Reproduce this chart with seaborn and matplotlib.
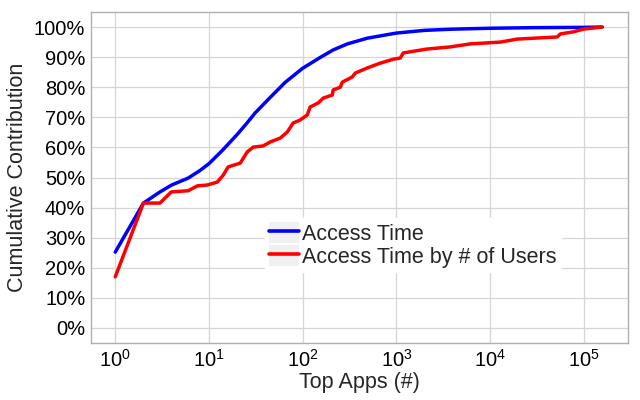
import numpy as np
import pandas as pd
import matplotlib
matplotlib.use("Agg")
import matplotlib.pyplot as plt
import matplotlib.ticker as mticker
from matplotlib.patches import Patch
from matplotlib.lines import Line2D
from matplotlib.legend_handler import HandlerTuple
import seaborn as sns

# Access Time: cumulative contribution (%) over top apps
access_apps = [1, 2, 3, 4, 6, 8, 10, 14, 20, 25.6, 31, 45, 65, 100, 154,
               212, 300, 490, 1000, 2000, 4000, 10000, 30000, 100000, 157000]
access_pct = [25.2, 41.5, 45.2, 47.5, 49.8, 52.3, 54.6, 59.1, 64.3, 68.2,
              71.4, 76.6, 81.6, 86.3, 89.9, 92.4, 94.4, 96.3, 98.0, 98.9,
              99.3, 99.6, 99.8, 99.9, 100.0]

# Access Time weighted by # of users (stepwise)
users_apps = [1, 2, 3, 3.96, 6, 7.5, 9.6, 12.3, 14.2, 16, 21.6, 25.6, 29.7,
              38, 45, 57.7, 68.5, 79, 94, 112, 120, 147, 166, 207, 212, 252,
              265, 338, 364, 489, 673, 927, 1100, 1185, 2137, 3760, 6150,
              12850, 19500, 52100, 56100, 77300, 98800, 157000]
users_pct = [17.0, 41.5, 41.5, 45.2, 45.6, 47.2, 47.5, 48.5, 50.8, 53.5, 54.8,
             58.5, 60.1, 60.5, 61.8, 63.1, 65.1, 68.1, 69.1, 70.8, 73.4, 74.8,
             76.4, 77.4, 79.1, 80.0, 81.7, 83.4, 84.7, 86.4, 88.0, 89.3, 89.7,
             91.4, 92.7, 93.4, 94.4, 95.0, 96.0, 96.7, 97.7, 98.4, 99.3, 100.0]

series_labels = ["Access Time", "Access Time by # of Users"]
series_colors = ["#0000ff", "#ff0000"]

sns.set_theme(style="whitegrid")
plt.rcParams["font.family"] = ["Liberation Sans", "DejaVu Sans"]
plt.rcParams["mathtext.fontset"] = "custom"
plt.rcParams["mathtext.rm"] = "Liberation Sans"

df = pd.concat([
    pd.DataFrame({"apps": access_apps, "pct": access_pct, "series": series_labels[0]}),
    pd.DataFrame({"apps": users_apps, "pct": users_pct, "series": series_labels[1]}),
])

fig = plt.figure(figsize=(6.4, 4.0), dpi=100)
ax = fig.add_axes([0.142, 0.1425, 0.839, 0.8275])

sns.lineplot(data=df, x="apps", y="pct", hue="series", palette=series_colors,
             hue_order=series_labels, linewidth=2.5, sort=False, legend=False, ax=ax)

ax.set_xscale("log")
ax.set_xlim(10 ** -0.26, 10 ** 5.47)
ax.set_ylim(-5, 105)
ax.yaxis.set_major_locator(mticker.MultipleLocator(10))
ax.yaxis.set_major_formatter(mticker.FuncFormatter(lambda v, _: f"{int(round(v))}%"))
ax.xaxis.set_major_locator(mticker.LogLocator(base=10, numticks=10))
ax.xaxis.set_minor_locator(mticker.NullLocator())

ax.grid(True, color="#d6d6d6", linewidth=0.9)
for s in ax.spines.values():
    s.set_color("#b0b0b0")
    s.set_linewidth(1.0)
ax.tick_params(axis="both", labelsize=14.5, length=0, pad=4, colors="black")
ax.set_xlabel("Top Apps (#)", fontsize=15.5, labelpad=1)
ax.set_ylabel("Cumulative Contribution", fontsize=15.5, labelpad=4)

# grey key background behind each legend line, like ggplot's legend keys
handles = [(Patch(facecolor="#f0f0f0", edgecolor="none"),
            Line2D([], [], color=c, linewidth=2.6)) for c in series_colors]
leg = ax.legend(handles, series_labels, loc="center", bbox_to_anchor=(0.6, 0.296),
                handler_map={tuple: HandlerTuple(ndivide=1, pad=0)},
                fontsize=15.5, frameon=True, fancybox=False, framealpha=1,
                edgecolor="white", facecolor="white", handlelength=1.4,
                handleheight=1.15, handletextpad=0.15, labelspacing=0.0,
                borderpad=0.2, borderaxespad=0)

fig.savefig("out.png", dpi=100)
